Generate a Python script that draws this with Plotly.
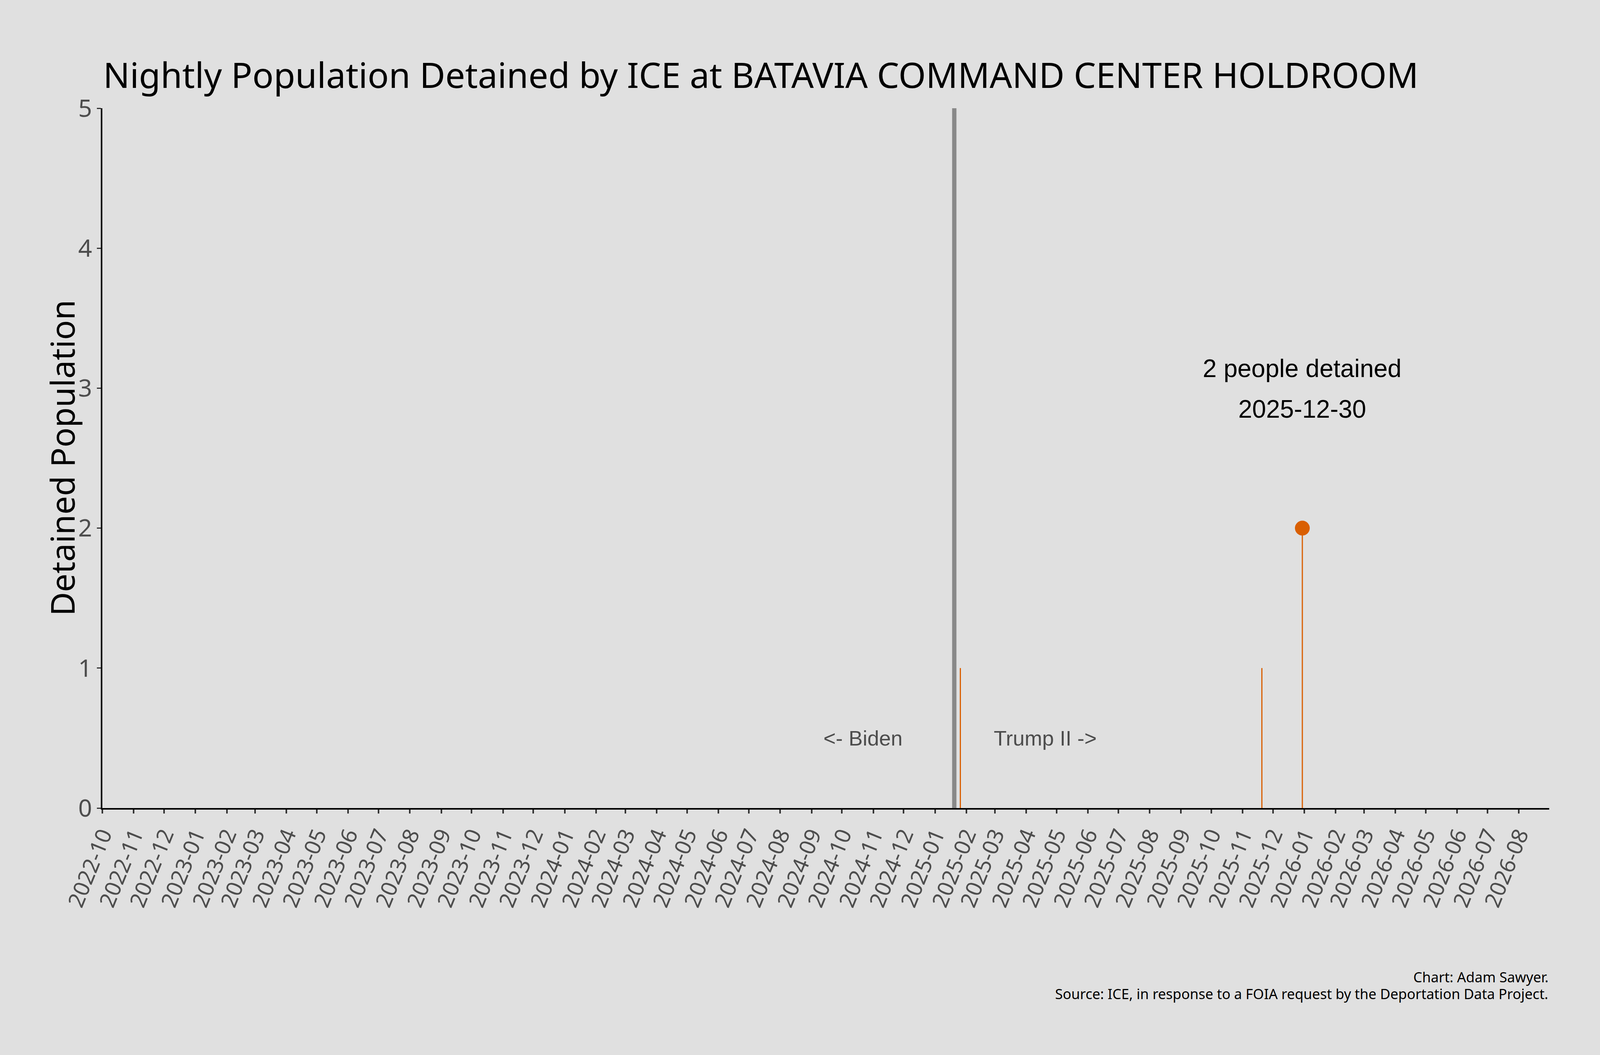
import plotly.graph_objects as go

# ---- data ----
detention_dates = ["2025-01-26", "2025-11-20", "2025-12-30"]
detained_population = [1, 1, 2]
peak_date = "2025-12-30"
peak_value = 2
inauguration_date = "2025-01-20"
era_label_dates = ["2024-10-22", "2025-04-20"]
era_labels = ["&lt;- Biden", "Trump II -&gt;"]
x_range = ["2022-10-01", "2026-08-31"]
y_range = [0, 5]

title_text = "Nightly Population Detained by ICE at BATAVIA COMMAND CENTER HOLDROOM"
y_title = "Detained Population"
credit_line = "Chart: Adam Sawyer."
source_line = "Source: ICE, in response to a FOIA request by the Deportation Data Project."

# ---- styles ----
BG = "#E0E0E0"
ORANGE = "#D95F02"
GREY_LINE = "#888888"
TICK_GREY = "#4D4D4D"
SANS = "Noto Sans"
ARIAL = "Liberation Sans"

# the browser viewport is 4096 x 2700
W, H = 4096, 2700
L, R, T, B = 262, 130, 277, 632
PW, PH = W - L - R, H - T - B


def py(px):
    """paper y from a pixel row measured from the top of the page"""
    return (H - B - px) / PH


fig = go.Figure()

# inauguration divider
fig.add_trace(go.Scatter(
    x=[inauguration_date, inauguration_date], y=y_range,
    mode="lines", line=dict(color=GREY_LINE, width=11),
    hoverinfo="skip", showlegend=False))

# stems
sx, sy = [], []
for d, v in zip(detention_dates, detained_population):
    sx += [d, d, None]
    sy += [0, v, None]
fig.add_trace(go.Scatter(
    x=sx, y=sy, mode="lines", line=dict(color=ORANGE, width=3),
    showlegend=False))

# peak marker
fig.add_trace(go.Scatter(
    x=[peak_date], y=[peak_value], mode="markers",
    marker=dict(color=ORANGE, size=38, line=dict(width=0)),
    showlegend=False))

annotations = []
annotations.append(dict(
    text=title_text, xref="paper", yref="paper", x=0, y=py(190),
    xanchor="left", yanchor="middle", showarrow=False,
    font=dict(family=SANS, size=90, color="black")))
annotations.append(dict(
    text=y_title, xref="paper", yref="paper",
    x=(158 - L) / PW, y=0.5, textangle=-90,
    xanchor="center", yanchor="middle", showarrow=False,
    font=dict(family=SANS, size=84, color="black")))
annotations.append(dict(
    text=f"{peak_value} people detained", xref="x", yref="y",
    x=peak_date, y=3.14, showarrow=False, xanchor="center", yanchor="middle",
    font=dict(family=ARIAL, size=64, color="black")))
annotations.append(dict(
    text=peak_date, xref="x", yref="y",
    x=peak_date, y=2.85, showarrow=False, xanchor="center", yanchor="middle",
    font=dict(family=ARIAL, size=64, color="black")))
for d, t in zip(era_label_dates, era_labels):
    annotations.append(dict(
        text=t, xref="x", yref="y", x=d, y=0.5, showarrow=False,
        xanchor="center", yanchor="middle",
        font=dict(family=ARIAL, size=54, color=TICK_GREY)))
annotations.append(dict(
    text=credit_line, xref="paper", yref="paper", x=1, y=py(2500),
    xanchor="right", yanchor="middle", showarrow=False,
    font=dict(family=SANS, size=36, color="black")))
annotations.append(dict(
    text=source_line, xref="paper", yref="paper", x=1, y=py(2543),
    xanchor="right", yanchor="middle", showarrow=False,
    font=dict(family=SANS, size=36, color="black")))

fig.update_layout(
    width=W, height=H,
    paper_bgcolor=BG, plot_bgcolor=BG,
    margin=dict(l=L, r=R, t=T, b=B, pad=0),
    showlegend=False,
    annotations=annotations,
    xaxis=dict(
        type="date", range=x_range, dtick="M1", tick0="2022-10-01",
        tickformat="%Y-%m", tickangle=-68,
        showgrid=False, zeroline=False,
        showline=True, linecolor="black", linewidth=4,
        ticks="outside", ticklen=10, tickwidth=3.5, tickcolor="#333333",
        tickfont=dict(family=SANS, size=56, color=TICK_GREY),
    ),
    yaxis=dict(
        range=y_range, dtick=1, tick0=0,
        showgrid=False, zeroline=False,
        showline=True, linecolor="black", linewidth=4,
        ticks="outside", ticklen=10, tickwidth=3, tickcolor="#333333",
        tickfont=dict(family=SANS, size=62, color=TICK_GREY),
    ),
)

fig.write_html("out.html", config={"displayModeBar": False},
               post_script="document.body.style.margin='0';")
